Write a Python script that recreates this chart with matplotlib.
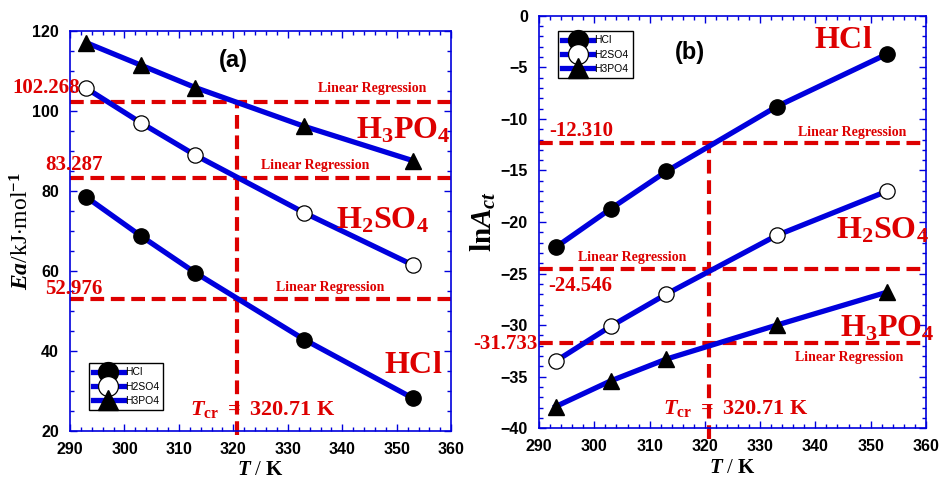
import matplotlib
matplotlib.use("Agg")
import matplotlib.pyplot as plt
import numpy as np
from matplotlib.ticker import MultipleLocator

plt.rcParams['mathtext.fontset'] = 'custom'
plt.rcParams['mathtext.rm'] = 'Liberation Serif'
plt.rcParams['mathtext.it'] = 'Liberation Serif:italic:bold'
plt.rcParams['mathtext.bf'] = 'Liberation Serif:bold'
plt.rcParams['font.family'] = 'Liberation Sans'
plt.rcParams['font.weight'] = 'bold'

T = [293, 303, 313, 333, 353]

# panel (a): activation energy, kJ/mol
ea_hcl = [78.5, 68.8, 59.6, 42.9, 28.2]
ea_h2so4 = [105.7, 97.1, 89.0, 74.6, 61.5]
ea_h3po4 = [117.1, 111.5, 105.9, 96.2, 87.6]
ea_ref = [102.268, 83.287, 52.976]

# panel (b): ln A
lna_hcl = [-22.45, -18.7, -15.1, -8.8, -3.7]
lna_h2so4 = [-33.5, -30.1, -27.0, -21.3, -17.0]
lna_h3po4 = [-37.9, -35.4, -33.3, -30.0, -26.8]
lna_ref = [-12.310, -24.546, -31.733]

T_cr = 320.71
names = ['HCl', 'H2SO4', 'H3PO4']

BLUE = '#0000dd'
RED = '#dd0000'
serif = 'Liberation Serif'
sans = 'Liberation Sans'

fig = plt.figure(figsize=(9.4, 4.79), dpi=100)
ax1 = fig.add_axes([0.0745, 0.100, 0.4055, 0.835])
ax2 = fig.add_axes([0.5735, 0.106, 0.4115, 0.861])


def draw_series(ax, ys):
    styles = [dict(marker='o', mfc='black', mec='black', ms=11),
              dict(marker='o', mfc='white', mec='black', ms=11, mew=0.9),
              dict(marker='^', mfc='black', mec='black', ms=11)]
    for y, st, nm in zip(ys, styles, names):
        ax.plot(T, y, color=BLUE, lw=3.8, label=nm, zorder=3, **st)


def style_axes(ax, ymaj, ymin):
    ax.set_xlim(290, 360)
    ax.xaxis.set_major_locator(MultipleLocator(10))
    ax.xaxis.set_minor_locator(MultipleLocator(2))
    ax.yaxis.set_major_locator(MultipleLocator(ymaj))
    ax.yaxis.set_minor_locator(MultipleLocator(ymin))
    ax.tick_params(which='both', direction='in', top=True, right=True,
                   color=BLUE, width=1, labelsize=11.5, pad=8)
    ax.tick_params(which='major', length=5)
    ax.tick_params(which='minor', length=3)
    for s in ax.spines.values():
        s.set_color(BLUE)
        s.set_linewidth(1.2)
    ax.set_xlabel(r'$T$ / $\mathbf{K}$', fontsize=15, family=serif, labelpad=3)


def ref_lines(ax, vals, ybottom):
    for v in vals:
        ax.axhline(v, color=RED, lw=3, ls=(0, (3.3, 1.6)), zorder=2)
    ax.plot([T_cr, T_cr], [ybottom - 1, vals[0]], color=RED, lw=3,
            ls=(0, (3.3, 1.6)), zorder=2, clip_on=False)


leg_kw = dict(prop={'family': sans, 'size': 7.5, 'weight': 'normal'},
              fancybox=False, edgecolor='black', framealpha=1, handlelength=3,
              borderpad=0.4, labelspacing=0.4, handletextpad=0.1, markerscale=1.3)

# ---- panel (a)
draw_series(ax1, [ea_hcl, ea_h2so4, ea_h3po4])
ax1.set_ylim(20, 120)
style_axes(ax1, 20, 5)
ref_lines(ax1, ea_ref, 20)
ax1.set_ylabel(r'$Ea$/kJ$\cdot$mol$^{-1}$', fontsize=17, family=serif,
               fontweight='normal', labelpad=-1)

txt = dict(color=RED, family=serif, fontweight='bold', ha='center', va='center')
ax1.text(320, 112.7, '(a)', fontsize=17, fontweight='bold', family=sans, ha='center', va='center')
for x, y in [(345.5, 105.6), (335, 86.3), (337.8, 56)]:
    ax1.text(x, y, 'Linear Regression', fontsize=10, **txt)
for x, y, v in [(285.6, 105.7, ea_ref[0]), (290.7, 86.6, ea_ref[1]), (290.7, 55.5, ea_ref[2])]:
    ax1.text(x, y, f'{v:.3f}', fontsize=15, clip_on=False, **txt)
ax1.text(351.2, 95, r'$\mathbf{H_3PO_4}$', fontsize=23, **txt)
ax1.text(347.4, 72.5, r'$\mathbf{H_2SO_4}$', fontsize=23, **txt)
ax1.text(353, 36.5, r'$\mathbf{HCl}$', fontsize=23, **txt)
ax1.text(312, 25.5, r'$T_{\mathbf{cr}}$ $\mathbf{=\ 320.71\ K}$', fontsize=16,
         color=RED, ha='left', va='center')
ax1.legend(loc='lower left', bbox_to_anchor=(0.035, 0.04), **leg_kw)

# ---- panel (b)
draw_series(ax2, [lna_hcl, lna_h2so4, lna_h3po4])
ax2.set_ylim(-40, 0)
style_axes(ax2, 5, 1)
ref_lines(ax2, lna_ref, -40)
ax2.set_ylabel(r'$\mathbf{ln}A_{ct}$', fontsize=21, labelpad=2)

ax2.text(317.3, -3.6, '(b)', fontsize=17, fontweight='bold', family=sans, ha='center', va='center')
for x, y in [(346.6, -11.3), (306.8, -23.4), (346.2, -33.1)]:
    ax2.text(x, y, 'Linear Regression', fontsize=10, **txt)
for x, y, v in [(297.6, -11.2, lna_ref[0]), (297.4, -26.2, lna_ref[1]), (283.9, -31.8, lna_ref[2])]:
    ax2.text(x, y, f'{v:.3f}', fontsize=15, clip_on=False, **txt)
ax2.text(345, -2.4, r'$\mathbf{HCl}$', fontsize=23, **txt)
ax2.text(352.2, -20.8, r'$\mathbf{H_2SO_4}$', fontsize=23, **txt)
ax2.text(353, -30.4, r'$\mathbf{H_3PO_4}$', fontsize=23, **txt)
ax2.text(312.4, -38.1, r'$T_{\mathbf{cr}}$ $\mathbf{=\ 320.71\ K}$', fontsize=16,
         color=RED, ha='left', va='center')
ax2.legend(loc='upper left', bbox_to_anchor=(0.035, 0.975), **leg_kw)

fig.canvas.draw()
for ax in (ax1, ax2):
    plt.setp(ax.get_xticklabels() + ax.get_yticklabels(), fontweight='bold', family=sans)

fig.savefig('out.png', dpi=100)
